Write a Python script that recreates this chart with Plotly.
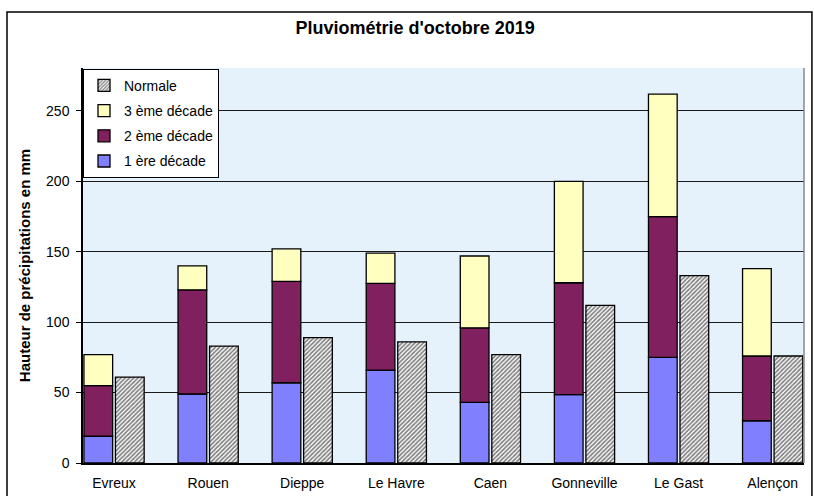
import plotly.graph_objects as go

# Stations et hauteurs de pluie (mm) par décade
stations = ["Evreux", "Rouen", "Dieppe", "Le Havre", "Caen", "Gonneville", "Le Gast", "Alençon"]
decade_1 = [19, 49, 57, 66, 43, 48.5, 75, 30]
decade_2 = [36, 74, 72, 61.5, 53, 79.5, 100, 46]
decade_3 = [22, 17, 23, 21.5, 51, 72, 87, 62]
normale = [61, 83, 89, 86, 77, 112, 133, 76]
y_ticks = [0, 50, 100, 150, 200, 250]

# Bases pour l'empilement des décades
base_2 = [a for a in decade_1]
base_3 = [a + b for a, b in zip(decade_1, decade_2)]

police = "Liberation Sans, Arial, sans-serif"
contour = dict(color="black", width=1.3)

fig = go.Figure()

fig.add_trace(go.Bar(
    x=stations, y=decade_1, name="1 ère décade",
    offset=-0.32, width=0.305,
    marker=dict(color="#8080ff", line=contour),
    legendrank=4, legendgroup="d1",
))
fig.add_trace(go.Bar(
    x=stations, y=decade_2, base=base_2, name="2 ème décade",
    offset=-0.32, width=0.305,
    marker=dict(color="#80205e", line=contour),
    legendrank=3, legendgroup="d2",
))
fig.add_trace(go.Bar(
    x=stations, y=decade_3, base=base_3, name="3 ème décade",
    offset=-0.32, width=0.305,
    marker=dict(color="#ffffc0", line=contour),
    legendrank=2, legendgroup="d3",
))
fig.add_trace(go.Bar(
    x=stations, y=normale, name="Normale",
    offset=0.015, width=0.305,
    marker=dict(
        color="white", line=contour,
        pattern=dict(shape="/", fgcolor="black", bgcolor="white", size=3, solidity=0.55),
    ),
    legendrank=1, legendgroup="n",
))

fig.update_layout(
    width=814, height=496,
    barmode="overlay",
    paper_bgcolor="white",
    plot_bgcolor="#e5f1fb",
    margin=dict(l=83, r=10, t=68, b=33),
    font=dict(family=police, size=13, color="black"),
    title=dict(
        text="<b>Pluviométrie d'octobre 2019</b>",
        x=0.51, xanchor="center", y=0.945, yanchor="middle",
        font=dict(family=police, size=18, color="black"),
    ),
    showlegend=True,
    legend=dict(
        x=0, y=0.998, xanchor="left", yanchor="top",
        bgcolor="white", bordercolor="black", borderwidth=1,
        traceorder="grouped", tracegroupgap=4,
        font=dict(family=police, size=14, color="black"),
        itemwidth=30,
    ),
    xaxis=dict(
        range=[-0.33, 7.333],
        showgrid=False, showline=True, linecolor="black", linewidth=2,
        ticks="", tickfont=dict(size=14), ticklabelstandoff=6,
        automargin=False,
    ),
    yaxis=dict(
        range=[0, 280.5],
        tickvals=y_ticks,
        showgrid=True, gridcolor="#1a1a1a", gridwidth=1,
        showline=True, linecolor="black", linewidth=1.5,
        ticks="outside", ticklen=5, tickcolor="black",
        ticklabelstandoff=4,
        zeroline=False,
        title=dict(text="<b>Hauteur de précipitations en mm</b>", font=dict(size=15), standoff=12),
        tickfont=dict(size=14),
    ),
    shapes=[
        # bord droit de la zone de tracé
        dict(type="line", xref="paper", yref="paper", x0=1, x1=1, y0=0, y1=1,
             line=dict(color="#888888", width=1.5)),
        # cadre extérieur du graphique
        dict(type="rect", xref="paper", yref="paper", x0=-0.1054, x1=1.011, y0=-0.2, y1=1.1418,
             line=dict(color="black", width=1.5)),
    ],
)

# la page est photographiée sans marge autour du graphique
fig.write_html(
    "out.html",
    config={"displayModeBar": False},
    post_script="document.body.style.margin='0';",
)
